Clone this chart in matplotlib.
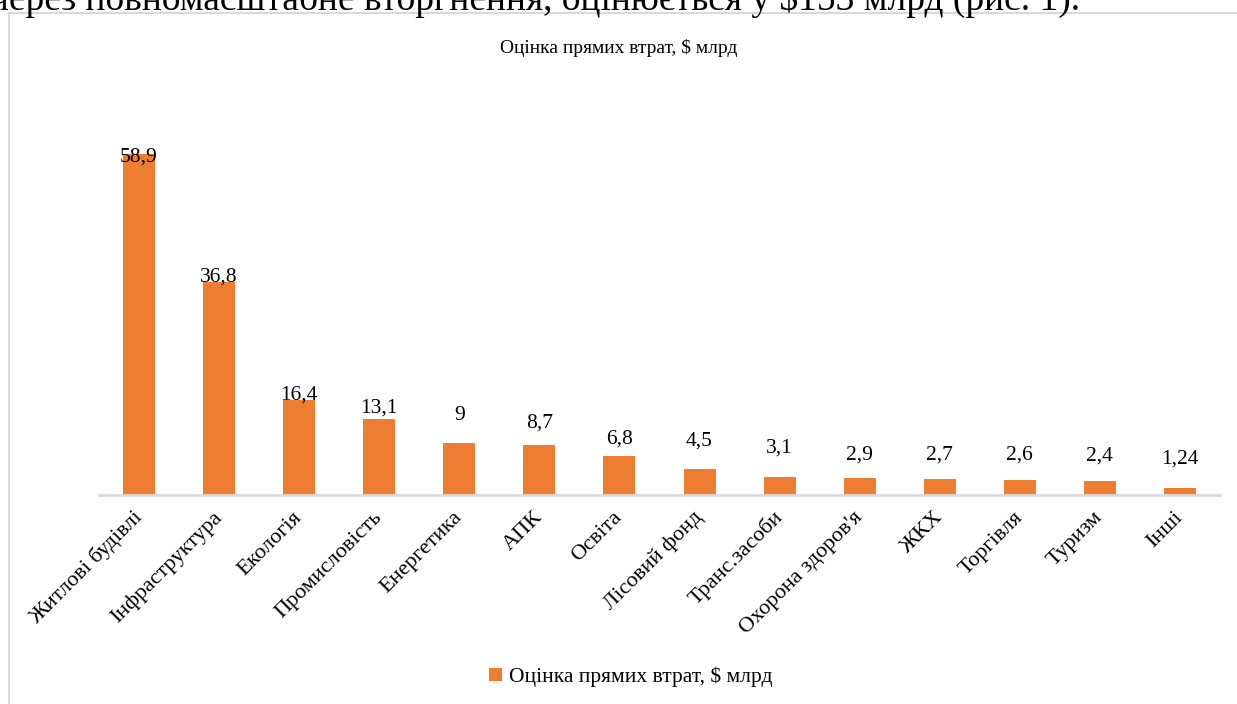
import matplotlib.pyplot as plt
from matplotlib.patches import Rectangle

categories = ["Житлові будівлі", "Інфраструктура", "Екологія", "Промисловість",
              "Енергетика", "АПК", "Освіта", "Лісовий фонд", "Транс.засоби",
              "Охорона здоров'я", "ЖКХ", "Торгівля", "Туризм", "Інші"]
values = [58.9, 36.8, 16.4, 13.1, 9, 8.7, 6.8, 4.5, 3.1, 2.9, 2.7, 2.6, 2.4, 1.24]
labels = ["58,9", "36,8", "16,4", "13,1", "9", "8,7", "6,8", "4,5", "3,1",
          "2,9", "2,7", "2,6", "2,4", "1,24"]
# label offsets above bar top (points), as placed by hand in the original
label_offsets = [-9, -3, -3, 1, 13, 9, 5, 13, 14, 10, 11, 11, 11, 14]

series_name = "Оцінка прямих втрат, $ млрд"
orange = "#ED7D31"

plt.rcParams['font.family'] = ['Liberation Serif', 'DejaVu Serif']

fig = plt.figure(figsize=(12.37, 7.04), dpi=100)

# chart frame (light grey border of the embedded chart)
fig.patches.append(Rectangle((9 / 1237, -0.05), 1.1, 1 - 13 / 704 + 0.05,
                             transform=fig.transFigure, fill=False,
                             edgecolor="#d9d9d9", linewidth=1.5))

# cut-off line of the surrounding document text
fig.text(-0.008, 1.0 - 10 / 704, "через повномасштабне вторгнення, оцінюється у $153 млрд (рис. 1).",
         fontsize=27, va='baseline', ha='left')

ax = fig.add_axes([99 / 1237, 209 / 704, 1121 / 1237, 0.493])
x = range(len(categories))
bars = ax.bar(x, values, width=0.4, color=orange, label=series_name)
ax.set_xlim(-0.5, len(categories) - 0.5)
ax.set_ylim(0, 60)

for xi, v, lab, off in zip(x, values, labels, label_offsets):
    ax.annotate(lab, (xi, v), xytext=(0, off), textcoords='offset points',
                ha='center', va='bottom', fontsize=15.5)

for s in ['top', 'right', 'left']:
    ax.spines[s].set_visible(False)
ax.spines['bottom'].set_color('#d9d9d9')
ax.spines['bottom'].set_linewidth(2)
ax.set_yticks([])
ax.set_xticks(list(x))
ax.set_xticklabels(categories, rotation=45, ha='right', va='center',
                   rotation_mode='anchor', fontsize=16)
ax.tick_params(axis='x', length=0, pad=14)

fig.text(0.5, 1 - 48 / 704, series_name, ha='center', va='center', fontsize=14)

fig.legend(handles=[bars], labels=[series_name], loc='center',
           bbox_to_anchor=(0.51, 1 - 677 / 704), frameon=False, fontsize=15.5,
           handlelength=0.6, handleheight=0.6, handletextpad=0.3)

plt.savefig('out.png')
